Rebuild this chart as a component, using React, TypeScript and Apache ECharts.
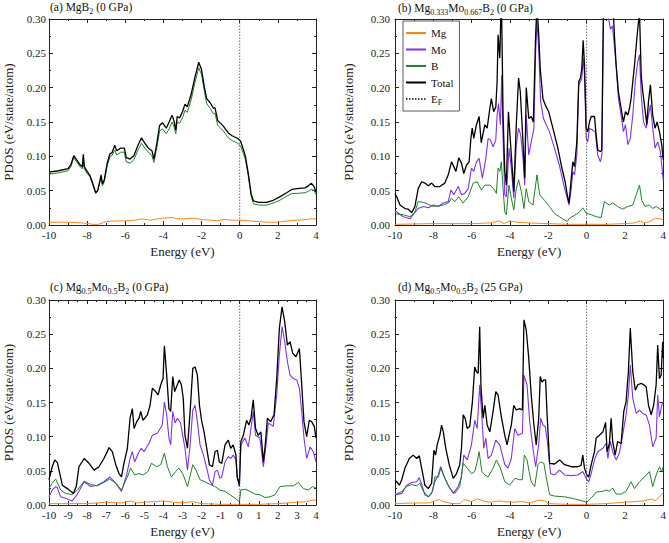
import { useEffect, useRef } from "react";
import * as echarts from "echarts";

const FONT = "Liberation Serif";

// (a) MgB2 (0 GPa)  -- [energy (eV), PDOS]
const aMg = [[-10, 0.004], [-9, 0.004], [-8.2, 0.003], [-7.7, 0.001], [-7.4, 0.001], [-7.0, 0.005], [-6.5, 0.006], [-6.0, 0.006], [-5.5, 0.007], [-5.1, 0.009], [-4.7, 0.007], [-4.3, 0.009], [-4.0, 0.010], [-3.5, 0.011], [-3.3, 0.009], [-3.0, 0.009], [-2.5, 0.010], [-2.0, 0.008], [-1.5, 0.007], [-1.2, 0.006], [-0.8, 0.008], [-0.4, 0.007], [0, 0.007], [0.5, 0.006], [1.0, 0.005], [1.5, 0.004], [2.0, 0.004], [2.5, 0.006], [3.0, 0.007], [3.5, 0.008], [3.8, 0.009], [4, 0.009]];
const aB = [[-10, 0.074], [-9.5, 0.076], [-9, 0.079], [-8.85, 0.085], [-8.7, 0.098], [-8.55, 0.092], [-8.35, 0.084], [-8.25, 0.082], [-8.2, 0.098], [-8.15, 0.082], [-8.0, 0.075], [-7.85, 0.07], [-7.7, 0.058], [-7.55, 0.046], [-7.45, 0.049], [-7.35, 0.06], [-7.27, 0.07], [-7.2, 0.057], [-7.1, 0.063], [-6.95, 0.086], [-6.8, 0.1], [-6.7, 0.101], [-6.55, 0.109], [-6.45, 0.102], [-6.25, 0.106], [-6.05, 0.106], [-5.95, 0.092], [-5.75, 0.09], [-5.55, 0.095], [-5.35, 0.108], [-5.15, 0.119], [-4.95, 0.111], [-4.75, 0.105], [-4.6, 0.101], [-4.5, 0.091], [-4.35, 0.112], [-4.2, 0.137], [-4.05, 0.14], [-3.85, 0.133], [-3.7, 0.14], [-3.55, 0.15], [-3.45, 0.144], [-3.35, 0.133], [-3.28, 0.15], [-3.15, 0.148], [-3.0, 0.156], [-2.87, 0.167], [-2.75, 0.164], [-2.55, 0.182], [-2.35, 0.207], [-2.15, 0.229], [-2.0, 0.219], [-1.85, 0.194], [-1.73, 0.177], [-1.55, 0.17], [-1.38, 0.162], [-1.3, 0.163], [-1.15, 0.145], [-1.0, 0.141], [-0.86, 0.137], [-0.6, 0.127], [-0.4, 0.123], [-0.1, 0.119], [0.05, 0.115], [0.19, 0.104], [0.3, 0.095], [0.45, 0.071], [0.6, 0.042], [0.72, 0.031], [1.0, 0.029], [1.4, 0.029], [1.76, 0.032], [2.1, 0.036], [2.46, 0.042], [2.75, 0.046], [3.0, 0.046], [3.42, 0.047], [3.6, 0.049], [3.75, 0.052], [3.9, 0.05], [4.0, 0.044]];
const aTotal = [[-10, 0.077], [-9.5, 0.079], [-9.0, 0.082], [-8.85, 0.088], [-8.7, 0.101], [-8.55, 0.095], [-8.35, 0.087], [-8.25, 0.085], [-8.2, 0.103], [-8.15, 0.085], [-8.0, 0.078], [-7.85, 0.072], [-7.7, 0.06], [-7.55, 0.047], [-7.45, 0.05], [-7.35, 0.062], [-7.27, 0.073], [-7.2, 0.06], [-7.1, 0.066], [-6.95, 0.09], [-6.8, 0.104], [-6.7, 0.105], [-6.55, 0.116], [-6.45, 0.108], [-6.25, 0.112], [-6.05, 0.112], [-5.95, 0.098], [-5.75, 0.096], [-5.55, 0.101], [-5.35, 0.115], [-5.15, 0.127], [-4.95, 0.118], [-4.75, 0.111], [-4.6, 0.108], [-4.5, 0.096], [-4.35, 0.118], [-4.2, 0.145], [-4.05, 0.149], [-3.85, 0.141], [-3.7, 0.15], [-3.55, 0.16], [-3.45, 0.152], [-3.35, 0.138], [-3.28, 0.158], [-3.15, 0.156], [-3.0, 0.165], [-2.87, 0.176], [-2.75, 0.172], [-2.55, 0.19], [-2.35, 0.215], [-2.15, 0.237], [-2.0, 0.226], [-1.85, 0.2], [-1.73, 0.184], [-1.55, 0.178], [-1.38, 0.17], [-1.3, 0.171], [-1.15, 0.152], [-1.0, 0.148], [-0.86, 0.144], [-0.6, 0.134], [-0.4, 0.13], [-0.1, 0.126], [0.05, 0.122], [0.19, 0.11], [0.3, 0.1], [0.45, 0.075], [0.6, 0.045], [0.72, 0.035], [1.0, 0.033], [1.4, 0.033], [1.76, 0.036], [2.1, 0.041], [2.46, 0.047], [2.75, 0.052], [3.0, 0.053], [3.42, 0.054], [3.6, 0.057], [3.75, 0.061], [3.9, 0.056], [4.0, 0.048]];

// (b) Mg0.333Mo0.667B2 (0 GPa)
const bMg = [[-10, 0.001], [-8, 0.002], [-6, 0.002], [-5, 0.003], [-4.6, 0.006], [-4.3, 0.002], [-4, 0.006], [-3.6, 0.004], [-3, 0.003], [-2, 0.002], [-1, 0.001], [0, 0.001], [1, 0.001], [2, 0.002], [2.5, 0.003], [2.8, 0.006], [3.0, 0.003], [3.3, 0.005], [3.6, 0.01], [3.8, 0.009], [4, 0.008]];
const bMo = [[-10, 0.02], [-9.91, 0.019], [-9.57, 0.012], [-9.22, 0.009], [-9.05, 0.015], [-8.79, 0.024], [-8.52, 0.027], [-8.26, 0.025], [-8.0, 0.029], [-7.74, 0.027], [-7.48, 0.032], [-7.22, 0.034], [-7.08, 0.051], [-6.93, 0.044], [-6.7, 0.056], [-6.53, 0.044], [-6.36, 0.046], [-6.18, 0.053], [-6.01, 0.083], [-5.89, 0.078], [-5.75, 0.092], [-5.61, 0.097], [-5.44, 0.068], [-5.26, 0.097], [-5.14, 0.126], [-5.02, 0.124], [-4.88, 0.114], [-4.74, 0.124], [-4.67, 0.16], [-4.6, 0.177], [-4.5, 0.146], [-4.43, 0.218], [-4.36, 0.126], [-4.27, 0.044], [-4.19, 0.041], [-4.05, 0.112], [-3.93, 0.083], [-3.8, 0.039], [-3.67, 0.117], [-3.55, 0.141], [-3.44, 0.131], [-3.32, 0.097], [-3.23, 0.058], [-3.15, 0.16], [-3.02, 0.102], [-2.89, 0.121], [-2.75, 0.141], [-2.66, 0.252], [-2.59, 0.296], [-2.5, 0.257], [-2.4, 0.18], [-2.25, 0.155], [-2.11, 0.146], [-1.94, 0.136], [-1.68, 0.112], [-1.42, 0.087], [-1.19, 0.058], [-1.01, 0.039], [-0.92, 0.029], [-0.8, 0.053], [-0.72, 0.078], [-0.63, 0.073], [-0.51, 0.102], [-0.41, 0.204], [-0.32, 0.209], [-0.25, 0.214], [-0.18, 0.243], [-0.11, 0.218], [-0.02, 0.126], [0.06, 0.121], [0.15, 0.141], [0.32, 0.138], [0.45, 0.136], [0.58, 0.102], [0.72, 0.092], [0.8, 0.102], [0.88, 0.3], [1.0, 0.33], [1.15, 0.3], [1.25, 0.285], [1.35, 0.29], [1.45, 0.26], [1.54, 0.233], [1.66, 0.184], [1.8, 0.16], [1.92, 0.136], [2.03, 0.146], [2.15, 0.117], [2.28, 0.126], [2.41, 0.16], [2.54, 0.209], [2.67, 0.238], [2.76, 0.248], [2.85, 0.189], [2.97, 0.15], [3.11, 0.141], [3.23, 0.16], [3.33, 0.175], [3.45, 0.141], [3.57, 0.112], [3.71, 0.121], [3.85, 0.107], [4.0, 0.065]];
const bB = [[-10, 0.017], [-9.91, 0.016], [-9.57, 0.015], [-9.22, 0.012], [-8.96, 0.019], [-8.79, 0.034], [-8.52, 0.033], [-8.26, 0.03], [-8.0, 0.027], [-7.74, 0.028], [-7.48, 0.029], [-7.22, 0.032], [-7.05, 0.039], [-6.88, 0.034], [-6.67, 0.041], [-6.45, 0.032], [-6.18, 0.041], [-5.92, 0.061], [-5.71, 0.063], [-5.49, 0.051], [-5.31, 0.058], [-5.05, 0.058], [-4.85, 0.053], [-4.71, 0.046], [-4.62, 0.083], [-4.53, 0.078], [-4.45, 0.092], [-4.36, 0.053], [-4.27, 0.019], [-4.19, 0.015], [-4.05, 0.058], [-3.93, 0.039], [-3.8, 0.022], [-3.67, 0.053], [-3.55, 0.066], [-3.41, 0.049], [-3.27, 0.024], [-3.15, 0.053], [-3.02, 0.034], [-2.8, 0.029], [-2.59, 0.073], [-2.45, 0.044], [-2.2, 0.036], [-1.94, 0.027], [-1.68, 0.017], [-1.42, 0.012], [-1.25, 0.009], [-1.01, 0.005], [-0.89, 0.01], [-0.63, 0.014], [-0.37, 0.019], [-0.2, 0.025], [-0.02, 0.017], [0.24, 0.015], [0.5, 0.012], [0.76, 0.011], [0.93, 0.034], [1.19, 0.029], [1.36, 0.032], [1.62, 0.027], [1.88, 0.023], [2.15, 0.027], [2.41, 0.029], [2.59, 0.044], [2.76, 0.058], [2.88, 0.036], [3.05, 0.027], [3.28, 0.029], [3.45, 0.024], [3.63, 0.027], [3.89, 0.022], [4.0, 0.02]];
const bTotal = [[-10, 0.045], [-9.91, 0.041], [-9.74, 0.029], [-9.48, 0.024], [-9.31, 0.023], [-9.13, 0.018], [-8.96, 0.027], [-8.79, 0.053], [-8.61, 0.063], [-8.44, 0.061], [-8.26, 0.057], [-8.09, 0.061], [-7.92, 0.056], [-7.66, 0.056], [-7.4, 0.061], [-7.22, 0.073], [-7.05, 0.092], [-6.93, 0.085], [-6.82, 0.078], [-6.67, 0.098], [-6.53, 0.09], [-6.41, 0.075], [-6.27, 0.087], [-6.13, 0.092], [-6.04, 0.126], [-5.97, 0.141], [-5.89, 0.126], [-5.75, 0.146], [-5.61, 0.158], [-5.5, 0.12], [-5.31, 0.146], [-5.19, 0.141], [-5.05, 0.17], [-4.97, 0.184], [-4.85, 0.165], [-4.74, 0.172], [-4.67, 0.209], [-4.62, 0.277], [-4.53, 0.243], [-4.45, 0.34], [-4.36, 0.16], [-4.27, 0.078], [-4.19, 0.058], [-4.08, 0.165], [-3.93, 0.102], [-3.8, 0.049], [-3.67, 0.146], [-3.55, 0.214], [-3.46, 0.194], [-3.32, 0.121], [-3.23, 0.068], [-3.15, 0.2], [-3.02, 0.155], [-2.89, 0.158], [-2.78, 0.15], [-2.66, 0.277], [-2.59, 0.32], [-2.5, 0.277], [-2.42, 0.228], [-2.28, 0.184], [-2.16, 0.175], [-1.98, 0.165], [-1.76, 0.141], [-1.5, 0.112], [-1.29, 0.083], [-1.12, 0.063], [-1.01, 0.044], [-0.92, 0.032], [-0.8, 0.068], [-0.72, 0.092], [-0.63, 0.085], [-0.51, 0.121], [-0.41, 0.209], [-0.32, 0.214], [-0.25, 0.228], [-0.18, 0.269], [-0.11, 0.233], [-0.02, 0.141], [0.06, 0.136], [0.15, 0.15], [0.24, 0.158], [0.41, 0.158], [0.5, 0.131], [0.58, 0.109], [0.72, 0.107], [0.79, 0.109], [0.88, 0.32], [1.0, 0.36], [1.2, 0.34], [1.36, 0.33], [1.45, 0.277], [1.54, 0.233], [1.66, 0.194], [1.8, 0.17], [1.92, 0.15], [2.03, 0.165], [2.15, 0.16], [2.24, 0.17], [2.32, 0.184], [2.5, 0.233], [2.64, 0.277], [2.76, 0.31], [2.85, 0.218], [2.93, 0.194], [3.02, 0.175], [3.14, 0.146], [3.23, 0.18], [3.33, 0.204], [3.45, 0.16], [3.57, 0.141], [3.68, 0.15], [3.8, 0.136], [3.92, 0.117], [4.0, 0.095]];

// (c) Mg0.5Mo0.5B2 (0 GPa)
const cMg = [[-10, 0.002], [-9, 0.002], [-8, 0.002], [-7, 0.004], [-6.2, 0.003], [-5.7, 0.006], [-5.4, 0.003], [-5, 0.004], [-4.5, 0.005], [-4, 0.006], [-3.5, 0.004], [-3, 0.003], [-2.5, 0.005], [-2, 0.002], [-1, 0.001], [0, 0.001], [1, 0.001], [2, 0.002], [2.5, 0.003], [3, 0.004], [3.5, 0.005], [3.8, 0.007], [4, 0.007]];
const cMo = [[-10, 0.012], [-9.83, 0.022], [-9.65, 0.027], [-9.56, 0.025], [-9.39, 0.012], [-9.13, 0.01], [-8.78, 0.006], [-8.51, 0.016], [-8.16, 0.034], [-7.81, 0.027], [-7.47, 0.029], [-7.12, 0.034], [-6.82, 0.041], [-6.5, 0.032], [-6.2, 0.02], [-5.93, 0.044], [-5.75, 0.068], [-5.63, 0.078], [-5.51, 0.063], [-5.28, 0.078], [-5.16, 0.083], [-5.02, 0.078], [-4.76, 0.09], [-4.58, 0.102], [-4.32, 0.105], [-4.06, 0.117], [-3.95, 0.151], [-3.83, 0.132], [-3.71, 0.098], [-3.62, 0.088], [-3.51, 0.137], [-3.39, 0.12], [-3.27, 0.127], [-3.1, 0.12], [-2.99, 0.102], [-2.87, 0.083], [-2.74, 0.051], [-2.6, 0.088], [-2.46, 0.139], [-2.34, 0.146], [-2.22, 0.122], [-2.08, 0.088], [-1.9, 0.073], [-1.73, 0.054], [-1.59, 0.037], [-1.43, 0.029], [-1.29, 0.049], [-1.17, 0.051], [-1.04, 0.039], [-0.94, 0.041], [-0.77, 0.063], [-0.6, 0.071], [-0.47, 0.068], [-0.34, 0.073], [-0.2, 0.066], [-0.13, 0.041], [-0.02, 0.027], [0.06, 0.088], [0.27, 0.098], [0.45, 0.085], [0.59, 0.112], [0.71, 0.137], [0.83, 0.102], [1.06, 0.098], [1.24, 0.056], [1.38, 0.088], [1.5, 0.12], [1.76, 0.115], [1.94, 0.161], [2.08, 0.22], [2.22, 0.261], [2.36, 0.239], [2.5, 0.21], [2.64, 0.19], [2.81, 0.185], [2.99, 0.183], [3.13, 0.171], [3.25, 0.137], [3.37, 0.098], [3.51, 0.068], [3.69, 0.085], [3.86, 0.078], [4.0, 0.063]];
const cB = [[-10, 0.024], [-9.83, 0.032], [-9.65, 0.038], [-9.39, 0.022], [-9.13, 0.017], [-8.78, 0.015], [-8.51, 0.022], [-8.16, 0.035], [-7.81, 0.03], [-7.47, 0.028], [-7.12, 0.033], [-6.82, 0.038], [-6.5, 0.032], [-6.2, 0.022], [-5.89, 0.041], [-5.72, 0.054], [-5.51, 0.044], [-5.28, 0.046], [-5.05, 0.044], [-4.81, 0.049], [-4.63, 0.061], [-4.35, 0.056], [-4.14, 0.059], [-3.95, 0.076], [-3.79, 0.056], [-3.58, 0.041], [-3.36, 0.049], [-3.18, 0.054], [-2.96, 0.044], [-2.74, 0.027], [-2.46, 0.059], [-2.29, 0.051], [-2.08, 0.037], [-1.82, 0.034], [-1.55, 0.03], [-1.29, 0.027], [-1.04, 0.022], [-0.77, 0.02], [-0.51, 0.015], [-0.25, 0.01], [-0.02, 0.005], [0.06, 0.022], [0.27, 0.023], [0.54, 0.02], [0.8, 0.016], [1.06, 0.015], [1.32, 0.011], [1.59, 0.012], [1.85, 0.015], [2.11, 0.027], [2.46, 0.028], [2.81, 0.028], [3.08, 0.033], [3.34, 0.024], [3.6, 0.022], [3.83, 0.027], [4.0, 0.025]];
const cTotal = [[-10, 0.037], [-9.83, 0.056], [-9.7, 0.066], [-9.56, 0.062], [-9.42, 0.044], [-9.3, 0.029], [-9.04, 0.024], [-8.86, 0.02], [-8.72, 0.017], [-8.57, 0.027], [-8.43, 0.056], [-8.16, 0.068], [-7.9, 0.061], [-7.64, 0.051], [-7.38, 0.056], [-7.12, 0.068], [-6.85, 0.084], [-6.68, 0.078], [-6.5, 0.059], [-6.33, 0.046], [-6.2, 0.041], [-6.07, 0.061], [-5.89, 0.083], [-5.75, 0.127], [-5.63, 0.141], [-5.54, 0.112], [-5.4, 0.122], [-5.28, 0.127], [-5.19, 0.137], [-5.07, 0.124], [-4.84, 0.132], [-4.7, 0.146], [-4.58, 0.171], [-4.41, 0.166], [-4.28, 0.161], [-4.14, 0.176], [-4.02, 0.185], [-3.95, 0.233], [-3.83, 0.19], [-3.71, 0.141], [-3.62, 0.137], [-3.51, 0.188], [-3.41, 0.166], [-3.27, 0.176], [-3.17, 0.183], [-3.06, 0.176], [-2.96, 0.156], [-2.87, 0.102], [-2.74, 0.083], [-2.6, 0.137], [-2.46, 0.2], [-2.34, 0.202], [-2.22, 0.19], [-2.11, 0.146], [-1.99, 0.122], [-1.87, 0.107], [-1.73, 0.083], [-1.59, 0.059], [-1.43, 0.056], [-1.29, 0.078], [-1.17, 0.08], [-1.07, 0.063], [-0.94, 0.061], [-0.77, 0.088], [-0.6, 0.095], [-0.47, 0.083], [-0.34, 0.088], [-0.2, 0.073], [-0.13, 0.041], [-0.02, 0.029], [0.06, 0.093], [0.19, 0.102], [0.36, 0.124], [0.48, 0.117], [0.59, 0.127], [0.71, 0.154], [0.83, 0.112], [0.97, 0.102], [1.11, 0.107], [1.24, 0.063], [1.34, 0.088], [1.45, 0.127], [1.62, 0.122], [1.8, 0.132], [1.94, 0.185], [2.08, 0.259], [2.22, 0.29], [2.36, 0.268], [2.5, 0.234], [2.64, 0.239], [2.78, 0.222], [2.95, 0.217], [3.13, 0.229], [3.25, 0.176], [3.37, 0.122], [3.51, 0.1], [3.65, 0.124], [3.77, 0.122], [3.91, 0.115], [4.0, 0.098]];

// (d) Mg0.5Mo0.5B2 (25 GPa)
const dMg = [[-10, 0.002], [-9, 0.003], [-8.2, 0.003], [-7.7, 0.008], [-7.5, 0.005], [-7, 0.002], [-6.6, 0.002], [-6.4, 0.008], [-6.0, 0.005], [-5.7, 0.009], [-5.3, 0.005], [-5.0, 0.004], [-4.6, 0.006], [-4.0, 0.004], [-3.3, 0.005], [-3.0, 0.003], [-2.5, 0.007], [-2.2, 0.006], [-2.0, 0.002], [-1, 0.001], [0, 0.001], [1, 0.002], [2, 0.004], [2.5, 0.005], [3.0, 0.006], [3.4, 0.009], [3.6, 0.006], [3.9, 0.015], [4, 0.018]];
const dMo = [[-10, 0.016], [-9.91, 0.015], [-9.65, 0.017], [-9.39, 0.029], [-9.13, 0.033], [-8.87, 0.034], [-8.73, 0.04], [-8.61, 0.03], [-8.44, 0.015], [-8.26, 0.012], [-8.09, 0.017], [-7.92, 0.034], [-7.74, 0.044], [-7.62, 0.056], [-7.48, 0.044], [-7.22, 0.029], [-6.96, 0.017], [-6.7, 0.027], [-6.53, 0.041], [-6.41, 0.073], [-6.23, 0.066], [-6.01, 0.088], [-5.84, 0.124], [-5.71, 0.112], [-5.58, 0.176], [-5.47, 0.132], [-5.37, 0.083], [-5.26, 0.098], [-5.14, 0.068], [-4.97, 0.073], [-4.74, 0.095], [-4.53, 0.088], [-4.27, 0.059], [-4.1, 0.054], [-3.93, 0.068], [-3.75, 0.112], [-3.58, 0.102], [-3.35, 0.105], [-3.27, 0.19], [-3.11, 0.176], [-2.97, 0.122], [-2.8, 0.083], [-2.66, 0.056], [-2.5, 0.088], [-2.4, 0.127], [-2.28, 0.117], [-2.16, 0.115], [-2.05, 0.093], [-1.88, 0.046], [-1.67, 0.044], [-1.41, 0.051], [-1.15, 0.044], [-0.8, 0.043], [-0.46, 0.044], [-0.2, 0.049], [-0.11, 0.044], [0.01, 0.037], [0.11, 0.034], [0.24, 0.046], [0.41, 0.066], [0.58, 0.078], [0.85, 0.083], [1.02, 0.09], [1.11, 0.068], [1.24, 0.093], [1.36, 0.078], [1.54, 0.066], [1.71, 0.076], [1.88, 0.102], [2.06, 0.132], [2.18, 0.161], [2.28, 0.205], [2.41, 0.156], [2.59, 0.134], [2.76, 0.139], [2.93, 0.134], [3.11, 0.132], [3.28, 0.117], [3.45, 0.085], [3.63, 0.098], [3.71, 0.161], [3.8, 0.129], [3.92, 0.146], [4.0, 0.151]];
const dB = [[-10, 0.016], [-9.91, 0.016], [-9.65, 0.02], [-9.39, 0.027], [-9.13, 0.03], [-8.87, 0.028], [-8.7, 0.032], [-8.52, 0.02], [-8.26, 0.012], [-8.04, 0.02], [-7.92, 0.041], [-7.74, 0.041], [-7.6, 0.055], [-7.4, 0.039], [-7.14, 0.024], [-6.88, 0.017], [-6.62, 0.027], [-6.44, 0.061], [-6.23, 0.054], [-6.01, 0.046], [-5.84, 0.049], [-5.71, 0.063], [-5.61, 0.078], [-5.47, 0.049], [-5.31, 0.044], [-5.14, 0.041], [-4.88, 0.054], [-4.71, 0.066], [-4.5, 0.054], [-4.27, 0.034], [-4.01, 0.029], [-3.75, 0.039], [-3.49, 0.037], [-3.35, 0.037], [-3.25, 0.073], [-3.11, 0.066], [-3.0, 0.049], [-2.89, 0.034], [-2.71, 0.027], [-2.54, 0.059], [-2.4, 0.063], [-2.23, 0.061], [-2.11, 0.041], [-1.93, 0.015], [-1.67, 0.013], [-1.15, 0.012], [-0.63, 0.009], [0.01, 0.004], [0.24, 0.01], [0.5, 0.019], [0.85, 0.02], [1.02, 0.022], [1.19, 0.02], [1.36, 0.025], [1.54, 0.016], [1.8, 0.016], [2.06, 0.02], [2.32, 0.034], [2.5, 0.024], [2.76, 0.034], [3.02, 0.041], [3.28, 0.049], [3.45, 0.027], [3.63, 0.044], [3.8, 0.056], [3.92, 0.049], [4.0, 0.056]];
const dTotal = [[-10, 0.036], [-9.91, 0.034], [-9.77, 0.029], [-9.65, 0.037], [-9.48, 0.054], [-9.25, 0.068], [-9.05, 0.073], [-8.87, 0.068], [-8.73, 0.072], [-8.61, 0.054], [-8.44, 0.029], [-8.26, 0.024], [-8.09, 0.032], [-7.97, 0.08], [-7.88, 0.073], [-7.8, 0.088], [-7.66, 0.102], [-7.57, 0.117], [-7.48, 0.107], [-7.35, 0.083], [-7.17, 0.059], [-6.96, 0.039], [-6.79, 0.046], [-6.62, 0.059], [-6.53, 0.083], [-6.44, 0.132], [-6.34, 0.127], [-6.23, 0.112], [-6.1, 0.115], [-5.96, 0.151], [-5.84, 0.202], [-5.75, 0.195], [-5.66, 0.193], [-5.58, 0.261], [-5.51, 0.171], [-5.4, 0.127], [-5.31, 0.146], [-5.19, 0.117], [-5.05, 0.107], [-4.88, 0.137], [-4.74, 0.166], [-4.62, 0.161], [-4.45, 0.129], [-4.27, 0.102], [-4.15, 0.088], [-4.05, 0.102], [-3.93, 0.117], [-3.8, 0.146], [-3.67, 0.139], [-3.49, 0.141], [-3.35, 0.139], [-3.27, 0.271], [-3.15, 0.256], [-3.02, 0.215], [-2.89, 0.161], [-2.75, 0.117], [-2.63, 0.088], [-2.5, 0.127], [-2.42, 0.188], [-2.33, 0.18], [-2.23, 0.183], [-2.14, 0.183], [-2.07, 0.137], [-1.93, 0.061], [-1.67, 0.06], [-1.41, 0.066], [-1.15, 0.059], [-0.8, 0.056], [-0.46, 0.056], [-0.29, 0.058], [-0.2, 0.073], [-0.11, 0.054], [0.01, 0.044], [0.11, 0.041], [0.24, 0.059], [0.41, 0.078], [0.5, 0.098], [0.67, 0.102], [0.85, 0.107], [0.99, 0.121], [1.07, 0.078], [1.19, 0.09], [1.28, 0.127], [1.36, 0.093], [1.49, 0.073], [1.62, 0.093], [1.8, 0.09], [1.94, 0.137], [2.06, 0.151], [2.18, 0.195], [2.28, 0.259], [2.41, 0.195], [2.54, 0.168], [2.67, 0.176], [2.85, 0.178], [2.98, 0.176], [3.11, 0.173], [3.23, 0.146], [3.37, 0.132], [3.5, 0.146], [3.63, 0.176], [3.71, 0.234], [3.8, 0.185], [3.89, 0.19], [3.97, 0.239], [4.0, 0.215]];

const fermi = [[0, 0], [0, 0.3]];

const titles = [
  "(a) MgB{s|2} (0 GPa)",
  "(b) Mg{s|0.333}Mo{s|0.667}B{s|2} (0 GPa)",
  "(c) Mg{s|0.5}Mo{s|0.5}B{s|2} (0 GPa)",
  "(d) Mg{s|0.5}Mo{s|0.5}B{s|2} (25 GPa)",
];
const xIntervals = [2, 2, 1, 2];

const panels = [
  { Mg: aMg, Mo: null, B: aB, Total: aTotal },
  { Mg: bMg, Mo: bMo, B: bB, Total: bTotal },
  { Mg: cMg, Mo: cMo, B: cB, Total: cTotal },
  { Mg: dMg, Mo: dMo, B: dB, Total: dTotal },
];

const COLORS: Record<string, string> = {
  Mg: "#f7861c",
  Mo: "#8033e8",
  B: "#22802a",
  Total: "#000000",
};
const WIDTHS: Record<string, number> = { Mg: 1, Mo: 1.1, B: 1, Total: 1.3 };

const grids = [
  { left: 49, top: 19, width: 267, height: 206 },
  { left: 395, top: 19, width: 269, height: 206 },
  { left: 49, top: 300, width: 267, height: 205 },
  { left: 395, top: 300, width: 269, height: 205 },
];
const titlePos = [
  { left: 50, top: -1 },
  { left: 398, top: 0 },
  { left: 50, top: 279 },
  { left: 398, top: 279 },
];
const yNameGaps = [34, 40, 34, 40];

const AXIS = "#222";

const App = () => {
  const chartRef = useRef<HTMLDivElement>(null);

  useEffect(() => {
    if (!chartRef.current) return;
    const chart = echarts.init(chartRef.current, null, { renderer: "svg" });

    const sub = { fontSize: 8, lineHeight: 8, verticalAlign: "bottom", fontFamily: FONT };
    const frame = { show: true, onZero: false, lineStyle: { color: AXIS, width: 1 } };
    const tick = { inside: true, length: 4, lineStyle: { color: AXIS } };
    const minor = { show: true, splitNumber: 2, length: 2, lineStyle: { color: AXIS } };

    const xAxes: any[] = [];
    const yAxes: any[] = [];
    grids.forEach((_, i) => {
      xAxes.push({
        type: "value",
        gridIndex: i,
        position: "bottom",
        min: -10,
        max: 4,
        interval: xIntervals[i],
        name: "Energy (eV)",
        nameLocation: "middle",
        nameGap: 20,
        nameTextStyle: { fontFamily: FONT, fontSize: 13, color: "#222" },
        axisLine: frame,
        axisTick: tick,
        minorTick: minor,
        splitLine: { show: false },
        axisLabel: { fontFamily: FONT, fontSize: 11, color: "#222", margin: 4 },
      });
      yAxes.push({
        type: "value",
        gridIndex: i,
        position: "left",
        min: 0,
        max: 0.3,
        interval: 0.05,
        name: "PDOS (eV/state/atom)",
        nameLocation: "middle",
        nameGap: yNameGaps[i],
        nameTextStyle: { fontFamily: FONT, fontSize: 13, color: "#222" },
        axisLine: frame,
        axisTick: tick,
        minorTick: minor,
        splitLine: { show: false },
        axisLabel: {
          fontFamily: FONT,
          fontSize: 11,
          color: "#222",
          margin: i % 2 ? 5 : 3,
          formatter: (v: number) => v.toFixed(2),
        },
      });
    });
    grids.forEach((_, i) => {
      xAxes.push({
        type: "value",
        gridIndex: i,
        position: "top",
        min: -10,
        max: 4,
        interval: xIntervals[i],
        axisLine: frame,
        axisTick: tick,
        minorTick: minor,
        splitLine: { show: false },
        axisLabel: { show: false },
      });
      yAxes.push({
        type: "value",
        gridIndex: i,
        position: "right",
        min: 0,
        max: 0.3,
        interval: 0.05,
        axisLine: frame,
        axisTick: tick,
        minorTick: minor,
        splitLine: { show: false },
        axisLabel: { show: false },
      });
    });

    const series: any[] = [];
    panels.forEach((p, i) => {
      (["Mg", "Mo", "B", "Total"] as const).forEach((key) => {
        const data = p[key];
        if (!data) return;
        series.push({
          type: "line",
          name: key,
          xAxisIndex: i,
          yAxisIndex: i,
          data,
          symbol: "none",
          clip: true,
          lineStyle: { color: COLORS[key], width: WIDTHS[key] },
          itemStyle: { color: COLORS[key] },
        });
      });
      series.push({
        type: "line",
        name: "EF",
        xAxisIndex: i,
        yAxisIndex: i,
        data: fermi,
        symbol: "none",
        lineStyle: { color: "#444", width: 0.8, type: [1.5, 1.5] },
        itemStyle: { color: "#444" },
      });
    });

    chart.setOption({
      animation: false,
      backgroundColor: "#fff",
      title: titles.map((t, i) => ({
        text: t,
        left: titlePos[i].left,
        top: titlePos[i].top,
        padding: 0,
        textStyle: {
          fontFamily: FONT,
          fontSize: 11.5,
          fontWeight: "normal",
          color: "#111",
          lineHeight: 16,
          rich: { s: sub },
        },
      })),
      grid: grids.map((g) => ({ ...g, containLabel: false })),
      xAxis: xAxes,
      yAxis: yAxes,
      legend: {
        data: ["Mg", "Mo", "B", "Total", "EF"],
        orient: "vertical",
        left: 403,
        top: 21,
        itemWidth: 20,
        itemHeight: 10,
        itemGap: 2.5,
        padding: [5, 6, 5, 2],
        borderColor: "#333",
        borderWidth: 0.8,
        selectedMode: false,
        backgroundColor: "#fff",
        itemStyle: { opacity: 0 },
        formatter: (name: string) => (name === "EF" ? "E{s|F}" : name),
        textStyle: {
          fontFamily: FONT,
          fontSize: 11,
          color: "#111",
          lineHeight: 14,
          rich: { s: sub },
        },
      },
      series,
    });

    return () => {
      chart.dispose();
    };
  }, []);

  return (
    <div
      ref={chartRef}
      style={{ position: "absolute", left: 0, top: 0, width: "669px", height: "543px" }}
    ></div>
  );
};

export default App;
